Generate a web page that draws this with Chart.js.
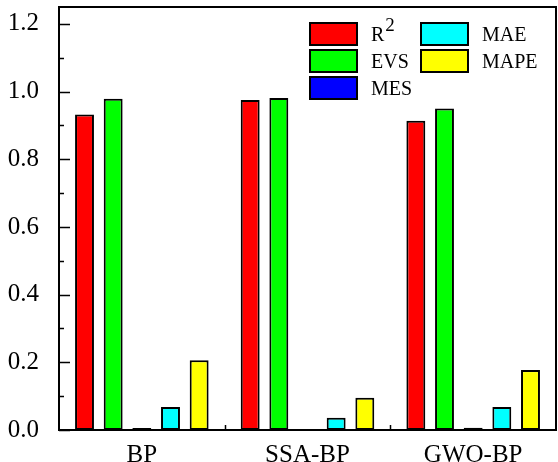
<!DOCTYPE html>
<html><head><meta charset="utf-8">
<script src="https://cdn.jsdelivr.net/npm/chart.js@4/dist/chart.umd.min.js"></script>
<style>html,body{margin:0;padding:0;background:#fff}#wrap{width:558px;height:462px}</style>
</head><body><div id="wrap"><canvas id="c" width="558" height="462"></canvas></div>
<script>
const categories = ['BP', 'SSA-BP', 'GWO-BP'];
const seriesNames = ['R2', 'EVS', 'MES', 'MAE', 'MAPE'];
const r2Values = [0.932, 0.975, 0.914];
const evsValues = [0.979, 0.981, 0.950];
const mesValues = [0.006, 0.003, 0.007];
const maeValues = [0.068, 0.036, 0.068];
const mapeValues = [0.206, 0.095, 0.177];
const yTicks = [0, 0.2, 0.4, 0.6, 0.8, 1.0, 1.2];
const yMinorTicks = [0.1, 0.3, 0.5, 0.7, 0.9, 1.1];
const colors = ['#FF0000', '#00FF00', '#0000FF', '#00FFFF', '#FFFF00'];
const values = [r2Values, evsValues, mesValues, maeValues, mapeValues];

const serif = "'Liberation Serif','Times New Roman',serif";

const decor = {
  id: 'decor',
  afterDatasetsDraw(chart) {
    const ctx = chart.ctx, a = chart.chartArea;
    const y = chart.scales.y, x = chart.scales.x;
    ctx.save();
    ctx.strokeStyle = '#000'; ctx.lineWidth = 2;
    ctx.strokeRect(a.left, a.top, a.right - a.left, a.bottom - a.top);
    ctx.lineWidth = 1.5;
    ctx.beginPath();
    yTicks.forEach(v => { const p = Math.round(y.getPixelForValue(v)) + 0.5; ctx.moveTo(a.left, p); ctx.lineTo(a.left + 11, p); });
    yMinorTicks.forEach(v => { const p = Math.round(y.getPixelForValue(v)) + 0.5; ctx.moveTo(a.left, p); ctx.lineTo(a.left + 5, p); });
    for (let i = 1; i < categories.length; i++) {
      const p = Math.round((x.getPixelForValue(i - 1) + x.getPixelForValue(i)) / 2) + 0.5;
      ctx.moveTo(p, a.bottom); ctx.lineTo(p, a.bottom - 5);
    }
    ctx.stroke();
    // legend
    const cols = [{bx: 310, tx: 371}, {bx: 421, tx: 482}];
    const rows = [23, 50, 77];
    const order = [[0, 0, 0], [1, 0, 1], [2, 0, 2], [3, 1, 0], [4, 1, 1]];
    const lf = '20px ' + serif;
    ctx.font = lf;
    ctx.textBaseline = 'middle';
    ctx.fillStyle = '#000';
    order.forEach(([di, c, r]) => {
      const bx = cols[c].bx, by = rows[r];
      ctx.fillStyle = colors[di];
      ctx.fillRect(bx, by, 47, 22);
      ctx.strokeStyle = '#000'; ctx.lineWidth = 2;
      ctx.strokeRect(bx, by, 47, 22);
      ctx.fillStyle = '#000';
      const ty = by + 13;
      if (di === 0) {
        ctx.font = lf;
        ctx.fillText('R', cols[c].tx, ty);
        const w = ctx.measureText('R').width;
        ctx.font = '19px ' + serif;
        ctx.fillText('2', cols[c].tx + w + 1, ty - 10);
        ctx.font = lf;
      } else {
        ctx.fillText(chart.data.datasets[di].label, cols[c].tx, ty);
      }
    });
    ctx.restore();
  }
};

new Chart(document.getElementById('c'), {
  type: 'bar',
  data: {
    labels: categories,
    datasets: seriesNames.map((n, i) => ({
      label: n, data: values[i], backgroundColor: colors[i],
      borderColor: '#000', borderWidth: 2, borderSkipped: false,
      categoryPercentage: 0.865, barPercentage: 0.66
    }))
  },
  options: {
    responsive: false, animation: false, devicePixelRatio: 1,
    layout: { padding: { top: 7, right: 2, left: 0, bottom: 0 } },
    plugins: { legend: { display: false }, tooltip: { enabled: false } },
    scales: {
      x: {
        grid: { display: false }, border: { display: false },
        ticks: { color: '#000', font: { family: serif, size: 25, lineHeight: 1 }, padding: 5, maxRotation: 0 },
        afterFit(s) { s.height = 32; s.paddingLeft = 0; s.paddingRight = 0; }
      },
      y: {
        min: 0, max: 1.25,
        grid: { display: false }, border: { display: false },
        ticks: { color: '#000', font: { family: serif, size: 25 }, padding: 12,
          callback: v => Number(v).toFixed(1) },
        afterBuildTicks(s) { s.ticks = yTicks.map(v => ({ value: v })); },
        afterFit(s) { s.width = 59; s.paddingTop = 0; s.paddingBottom = 0; }
      }
    }
  },
  plugins: [decor]
});
</script>
</body></html>
